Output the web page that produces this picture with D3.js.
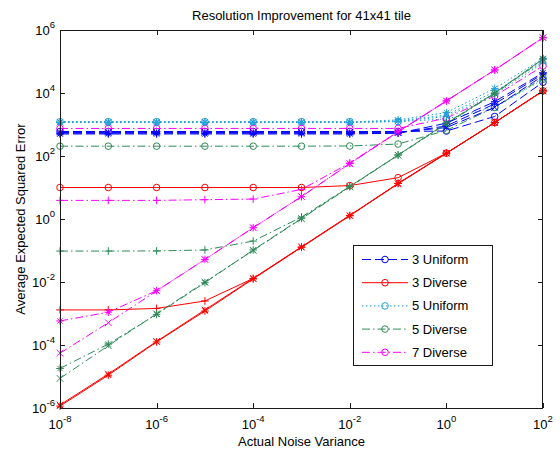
<!DOCTYPE html>
<html>
<head>
<meta charset="utf-8">
<script src="https://cdn.jsdelivr.net/npm/d3@7"></script>
<style>
  html, body { margin: 0; padding: 0; background: #fff; }
  svg { display: block; font-family: Arial, "Liberation Sans", Helvetica, sans-serif; }
</style>
</head>
<body>
<svg id="chart" width="560" height="451"></svg>
<script>
// Noise variances tested (x axis)
const noiseVariance = [1e-8, 1e-7, 1e-6, 1e-5, 1e-4, 1e-3, 1e-2, 1e-1, 1e0, 1e1, 1e2];

// 3 Uniform
const uniform3_o = [600, 600, 600, 600, 600, 600, 600, 600, 620, 1800, 2.2e4];
const uniform3_x = [560, 560, 560, 560, 560, 560, 560, 565, 800, 3.5e3, 3.5e4];
const uniform3_p = [530, 530, 530, 530, 530, 530, 530, 535, 900, 4.5e3, 4.0e4];
const uniform3_s = [500, 500, 500, 500, 500, 500, 500, 530, 1100, 5.3e3, 4.4e4];

// 3 Diverse
const diverse3_o = [10, 10, 10, 10, 10, 10, 11.5, 20.5, 123, 1150, 1.17e4];
const diverse3_x = [1.25e-6, 1.2e-5, 1.3e-4, 1.3e-3, 1.3e-2, 0.13, 1.3, 13, 122, 1150, 1.16e4];
const diverse3_p = [1.3e-3, 1.3e-3, 1.45e-3, 2.5e-3, 1.3e-2, 0.13, 1.3, 13.5, 123, 1150, 1.17e4];
const diverse3_s = [1.15e-6, 1.1e-5, 1.25e-4, 1.2e-3, 1.25e-2, 0.126, 1.26, 13.5, 123, 1150, 1.17e4];

// 5 Uniform
const uniform5_o = [1230, 1230, 1230, 1230, 1230, 1230, 1230, 1230, 1500, 3.5e3, 2.7e4];
const uniform5_x = [1180, 1180, 1180, 1180, 1180, 1180, 1180, 1300, 2.0e3, 1.1e4, 1.0e5];
const uniform5_p = [1150, 1150, 1150, 1150, 1150, 1150, 1150, 1250, 1.8e3, 9.0e3, 9.0e4];
const uniform5_s = [1200, 1200, 1200, 1200, 1200, 1200, 1200, 1400, 2.4e3, 1.4e4, 1.25e5];

// 5 Diverse
const diverse5_o = [205, 205, 205, 205, 205, 205, 208, 240, 650, 3.5e3, 3.0e4];
const diverse5_x = [8.7e-6, 9.5e-5, 9.8e-4, 1.0e-2, 0.1, 1.02, 10.5, 105, 1050, 9.5e3, 1.15e5];
const diverse5_p = [0.096, 0.096, 0.097, 0.104, 0.2, 1.15, 10.8, 108, 1100, 1.0e4, 1.2e5];
const diverse5_s = [1.8e-5, 1.07e-4, 9.4e-4, 9.5e-3, 0.104, 1.05, 10.7, 107, 1100, 9.8e3, 1.2e5];

// 7 Diverse
const diverse7_o = [750, 750, 750, 750, 750, 750, 750, 750, 1.6e3, 8.0e3, 7.2e4];
const diverse7_x = [5.5e-5, 5.1e-4, 5.2e-3, 0.052, 0.53, 5.2, 57, 580, 5.6e3, 5.4e4, 5.7e5];
const diverse7_p = [3.9, 3.9, 3.9, 4.1, 4.3, 8.7, 60, 590, 5.6e3, 5.4e4, 5.7e5];
const diverse7_s = [5.8e-4, 1.1e-3, 5.3e-3, 0.052, 0.53, 5.1, 58, 590, 5.6e3, 5.4e4, 5.7e5];

// Axis ticks (decade exponents)
const xTickExponents = [-8, -6, -4, -2, 0, 2];
const yTickExponents = [-6, -4, -2, 0, 2, 4, 6];

const groupNames = ["3 Uniform", "3 Diverse", "5 Uniform", "5 Diverse", "7 Diverse"];

// Line styles per group
const groupStyle = {
  "3 Uniform": { color: "#0000ff", dash: "9,4" },
  "3 Diverse": { color: "#ff0000", dash: null },
  "5 Uniform": { color: "#1f9fd8", dash: "1.5,2.5" },
  "5 Diverse": { color: "#2e8b57", dash: "8,3,1.5,3" },
  "7 Diverse": { color: "#ff00ff", dash: "8,3,1.5,3" }
};

// Plot order: the circle-marked curve of each group first, then x, +, *
const series = [
  { group: "3 Uniform", marker: "o", values: uniform3_o },
  { group: "3 Diverse", marker: "o", values: diverse3_o },
  { group: "5 Uniform", marker: "o", values: uniform5_o },
  { group: "5 Diverse", marker: "o", values: diverse5_o },
  { group: "7 Diverse", marker: "o", values: diverse7_o },
  { group: "3 Uniform", marker: "x", values: uniform3_x },
  { group: "3 Diverse", marker: "x", values: diverse3_x },
  { group: "5 Uniform", marker: "x", values: uniform5_x },
  { group: "5 Diverse", marker: "x", values: diverse5_x },
  { group: "7 Diverse", marker: "x", values: diverse7_x },
  { group: "3 Uniform", marker: "+", values: uniform3_p },
  { group: "3 Diverse", marker: "+", values: diverse3_p },
  { group: "5 Uniform", marker: "+", values: uniform5_p },
  { group: "5 Diverse", marker: "+", values: diverse5_p },
  { group: "7 Diverse", marker: "+", values: diverse7_p },
  { group: "3 Uniform", marker: "*", values: uniform3_s },
  { group: "3 Diverse", marker: "*", values: diverse3_s },
  { group: "5 Uniform", marker: "*", values: uniform5_s },
  { group: "5 Diverse", marker: "*", values: diverse5_s },
  { group: "7 Diverse", marker: "*", values: diverse7_s }
];

const svg = d3.select("#chart");
const plot = { left: 60, right: 543, top: 30, bottom: 408 };

const x = d3.scaleLog().domain([1e-8, 1e2]).range([plot.left, plot.right]);
const y = d3.scaleLog().domain([1e-6, 1e6]).range([plot.bottom, plot.top]);

svg.append("rect").attr("width", 560).attr("height", 451).attr("fill", "#fff");
svg.append("rect")
  .attr("x", plot.left).attr("y", plot.top)
  .attr("width", plot.right - plot.left).attr("height", plot.bottom - plot.top)
  .attr("fill", "#fff");

const clip = svg.append("clipPath").attr("id", "plotclip")
  .append("rect")
  .attr("x", plot.left - 6).attr("y", plot.top - 6)
  .attr("width", plot.right - plot.left + 12).attr("height", plot.bottom - plot.top + 12);

// Marker glyphs
function drawMarker(g, marker, cx, cy, color) {
  const s = 3.3;
  if (marker === "o") {
    g.append("circle").attr("cx", cx).attr("cy", cy).attr("r", 3.3)
      .attr("fill", "none").attr("stroke", color).attr("stroke-width", 1);
    return;
  }
  let d = "";
  if (marker === "+" || marker === "*") {
    d += `M${cx - s - 0.5},${cy}H${cx + s + 0.5}M${cx},${cy - s - 0.5}V${cy + s + 0.5}`;
  }
  if (marker === "x" || marker === "*") {
    const k = marker === "*" ? s * 0.8 : s;
    d += `M${cx - k},${cy - k}L${cx + k},${cy + k}M${cx - k},${cy + k}L${cx + k},${cy - k}`;
  }
  g.append("path").attr("d", d).attr("fill", "none")
    .attr("stroke", color).attr("stroke-width", 1);
}

const line = d3.line()
  .x(d => x(d[0]))
  .y(d => y(d[1]));

const dataLayer = svg.append("g").attr("clip-path", "url(#plotclip)");

series.forEach(s => {
  const st = groupStyle[s.group];
  const pts = noiseVariance.map((v, i) => [v, s.values[i]]);
  const g = dataLayer.append("g");
  g.append("path")
    .attr("d", line(pts))
    .attr("fill", "none")
    .attr("stroke", st.color)
    .attr("stroke-width", 1)
    .attr("stroke-dasharray", st.dash);
  pts.forEach(p => drawMarker(g, s.marker, x(p[0]), y(p[1]), st.color));
});

// Axes box with inward ticks on all four sides
const axisColor = "#1a1a1a";
const tickLen = 5;
const axes = svg.append("g").attr("stroke", axisColor).attr("stroke-width", 1).attr("fill", "none");
axes.append("rect")
  .attr("x", plot.left + 0.5).attr("y", plot.top + 0.5)
  .attr("width", plot.right - plot.left - 1).attr("height", plot.bottom - plot.top);

xTickExponents.forEach(e => {
  const px = Math.round(x(Math.pow(10, e))) + 0.5;
  axes.append("line").attr("x1", px).attr("x2", px).attr("y1", plot.bottom).attr("y2", plot.bottom - tickLen);
  axes.append("line").attr("x1", px).attr("x2", px).attr("y1", plot.top).attr("y2", plot.top + tickLen);
});
yTickExponents.forEach(e => {
  const py = Math.round(y(Math.pow(10, e))) + 0.5;
  axes.append("line").attr("x1", plot.left).attr("x2", plot.left + tickLen).attr("y1", py).attr("y2", py);
  axes.append("line").attr("x1", plot.right).attr("x2", plot.right - tickLen).attr("y1", py).attr("y2", py);
});

// Tick labels as 10 with superscript exponent
const tickFont = 13;
const expFont = 9.5;
xTickExponents.forEach(e => {
  const t = svg.append("text")
    .attr("x", x(Math.pow(10, e)))
    .attr("y", 429)
    .attr("text-anchor", "middle")
    .attr("font-size", tickFont)
    .attr("fill", "#000");
  t.append("tspan").text("10");
  t.append("tspan").attr("font-size", expFont).attr("dy", -7).text(String(e).replace("-", "-"));
});
yTickExponents.forEach(e => {
  const t = svg.append("text")
    .attr("x", 55)
    .attr("y", y(Math.pow(10, e)) + 5)
    .attr("text-anchor", "end")
    .attr("font-size", tickFont)
    .attr("fill", "#000");
  t.append("tspan").text("10");
  t.append("tspan").attr("font-size", expFont).attr("dy", -7).text(String(e));
});

// Title and axis labels
svg.append("text")
  .attr("x", (plot.left + plot.right) / 2)
  .attr("y", 20)
  .attr("text-anchor", "middle")
  .attr("font-size", 13)
  .text("Resolution Improvement for 41x41 tile");

svg.append("text")
  .attr("x", (plot.left + plot.right) / 2)
  .attr("y", 446)
  .attr("text-anchor", "middle")
  .attr("font-size", 13)
  .text("Actual Noise Variance");

svg.append("text")
  .attr("transform", `translate(25,${(plot.top + plot.bottom) / 2}) rotate(-90)`)
  .attr("text-anchor", "middle")
  .attr("font-size", 13)
  .text("Average Expected Squared Error");

// Legend
const legend = svg.append("g");
const lg = { x: 353.5, y: 245.5, w: 139, h: 120 };
legend.append("rect")
  .attr("x", lg.x).attr("y", lg.y).attr("width", lg.w).attr("height", lg.h)
  .attr("fill", "#fff").attr("stroke", axisColor).attr("stroke-width", 1);
groupNames.forEach((name, i) => {
  const st = groupStyle[name];
  const cy = 259.5 + i * 23.2;
  legend.append("line")
    .attr("x1", 362).attr("x2", 408).attr("y1", cy).attr("y2", cy)
    .attr("stroke", st.color).attr("stroke-width", 1)
    .attr("stroke-dasharray", st.dash);
  drawMarker(legend, "o", 385, cy, st.color);
  legend.append("text")
    .attr("x", 412).attr("y", cy + 4.5)
    .attr("font-size", 13)
    .attr("fill", "#000")
    .text(name);
});
</script>
</body>
</html>
